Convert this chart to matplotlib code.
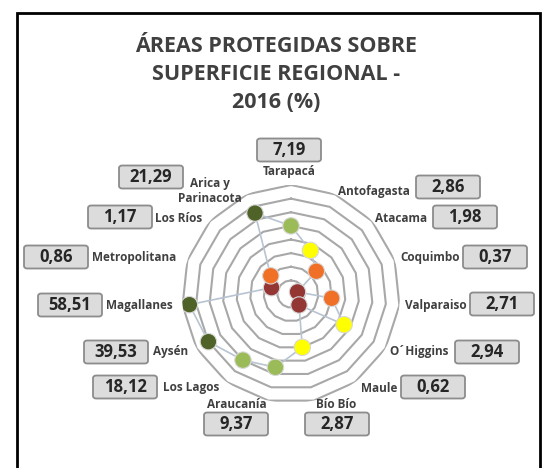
import numpy as np
import matplotlib.pyplot as plt
from matplotlib.patches import FancyBboxPatch, Rectangle

plt.rcParams['font.family'] = ['Open Sans', 'DejaVu Sans']

# Datos: regiones en el orden del gráfico (sentido horario desde arriba)
regiones = ['Tarapacá', 'Antofagasta', 'Atacama', 'Coquimbo', 'Valparaiso',
            'O´Higgins', 'Maule', 'Bío Bío', 'Araucanía', 'Los Lagos',
            'Aysén', 'Magallanes', 'Metropolitana', 'Los Ríos',
            'Arica y\nParinacota']
porcentaje = [7.19, 2.86, 1.98, 0.37, 2.71, 2.94, 0.62, 2.87, 9.37, 18.12,
              39.53, 58.51, 0.86, 1.17, 21.29]
# posición radial (ranking)
ranking = [10, 7, 5, 1, 6, 9, 2, 8, 11, 12, 14, 15, 3, 4, 13]
grupo = [3, 2, 1, 0, 1, 2, 0, 2, 3, 3, 4, 4, 0, 1, 4]
colores_grupo = ['#943634', '#F07028', '#FFFF00', '#9BBB59', '#4F6228']

W, H = 543, 468
fig = plt.figure(figsize=(W / 100, H / 100), dpi=100)

def fx(x):
    return x / W

def fy(y):
    return 1 - y / H

# marco
fig.patches.append(Rectangle((fx(17), fy(480)), fx(540) - fx(17), fy(13) - fy(480),
                             transform=fig.transFigure, fill=False,
                             edgecolor='black', lw=2, zorder=0))

# título
for txt, y in zip(['ÁREAS PROTEGIDAS SOBRE', 'SUPERFICIE REGIONAL -', '2016 (%)'],
                  [46, 74, 102]):
    fig.text(fx(276), fy(y), txt, ha='center', va='center', fontsize=15.5,
             fontweight='bold', color='#404040')

# radar
cx, cy, R = 291, 294, 109
ax = fig.add_axes([fx(cx - R), fy(cy + R), 2 * R / W, 2 * R / H], projection='polar')
ax.set_theta_offset(np.pi / 2)
ax.set_theta_direction(-1)
ax.set_ylim(0, 16)
ax.grid(False)
ax.spines['polar'].set_visible(False)
ax.set_xticks([])
ax.set_yticks([])
ax.patch.set_alpha(0)

n = len(regiones)
ang = np.linspace(0, 2 * np.pi, n, endpoint=False)
ang_c = np.append(ang, ang[0])
for k in range(2, 17, 2):
    ax.plot(ang_c, [k] * (n + 1), color='#A8A8A8', lw=1.5, zorder=1)

r_c = np.append(ranking, ranking[0])
ax.plot(ang_c, r_c, color='#B8C4D2', lw=1.2, zorder=2)
ax.scatter(ang, ranking, s=140, c=[colores_grupo[g] for g in grupo],
           edgecolors='#D8D8D8', linewidths=0.8, zorder=3)

# etiquetas: (texto x, texto y, alineación, caja x, caja y)
pos = {
    'Tarapacá': (289, 171, 'center', 289, 150),
    'Antofagasta': (410, 192, 'right', 448, 187),
    'Atacama': (427, 219, 'right', 465, 217),
    'Coquimbo': (460, 258, 'right', 495, 257),
    'Valparaiso': (467, 305, 'right', 502, 304),
    'O´Higgins': (449, 352, 'right', 487, 352),
    'Maule': (397, 388, 'right', 433, 387),
    'Bío Bío': (336, 405, 'center', 337, 424),
    'Araucanía': (237, 405, 'center', 236, 424),
    'Los Lagos': (163, 388, 'left', 125, 387),
    'Aysén': (153, 352, 'left', 116, 352),
    'Magallanes': (106, 305, 'left', 70, 305),
    'Metropolitana': (92, 258, 'left', 56, 257),
    'Los Ríos': (155, 219, 'left', 120, 217),
    'Arica y\nParinacota': (210, 191, 'center', 151, 177),
}
bw, bh = 64, 23
for reg, val in zip(regiones, porcentaje):
    tx, ty, ha, bx, by = pos[reg]
    fig.text(fx(tx), fy(ty), reg, ha=ha, va='center', fontsize=8.5,
             fontweight='bold', color='#404040', linespacing=1.2)
    fig.patches.append(FancyBboxPatch((fx(bx - bw / 2), fy(by + bh / 2)),
                                      bw / W, bh / H,
                                      boxstyle='round,pad=0,rounding_size=0.006',
                                      transform=fig.transFigure,
                                      facecolor='#DCDCDC', edgecolor='#8C8C8C', lw=1.3))
    fig.text(fx(bx), fy(by), f'{val:.2f}'.replace('.', ','), ha='center', va='center',
             fontsize=12, fontweight='bold', color='#262626')

fig.savefig('out.png', dpi=100)
